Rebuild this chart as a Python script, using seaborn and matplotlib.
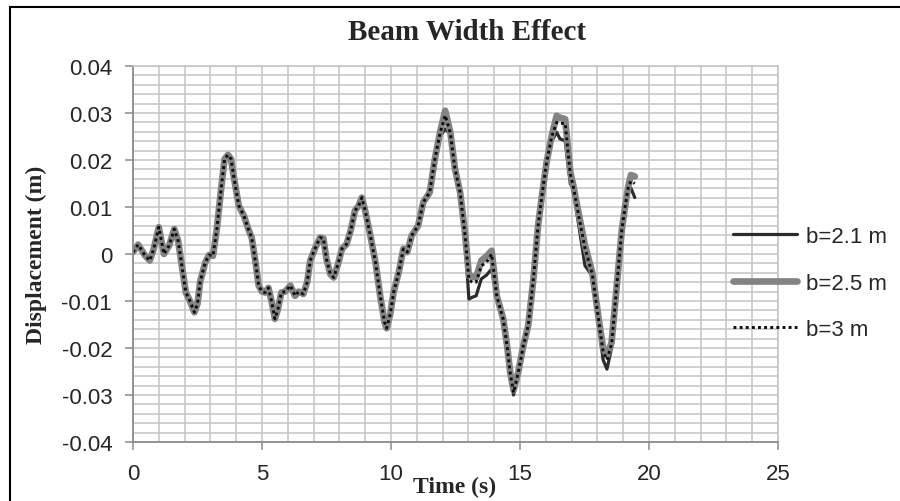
import matplotlib
matplotlib.use('Agg')
import matplotlib.pyplot as plt
import matplotlib.ticker as mticker
from matplotlib.patches import Rectangle
import pandas as pd
import seaborn as sns

# tiempos (s)
time_s = [0.0, 0.2, 0.45, 0.65, 0.8, 1.0, 1.2, 1.4, 1.6, 1.75,
          1.95, 2.05, 2.2, 2.38, 2.5, 2.6, 2.8, 2.95, 3.1, 3.25,
          3.4, 3.55, 3.68, 3.8, 3.92, 4.1, 4.3, 4.47, 4.6, 4.75,
          4.87, 5.0, 5.12, 5.25, 5.38, 5.5, 5.62, 5.75, 5.9, 6.1,
          6.28, 6.42, 6.6, 6.75, 6.87, 7.05, 7.25, 7.38, 7.5, 7.65,
          7.78, 7.95, 8.1, 8.28, 8.45, 8.6, 8.75, 8.87, 9.0, 9.2,
          9.4, 9.58, 9.75, 9.83, 9.97, 10.1, 10.3, 10.48, 10.63, 10.8,
          11.05, 11.25, 11.5, 11.7, 11.9, 12.1, 12.3, 12.48, 12.68, 12.88,
          13.02, 13.15, 13.3, 13.5, 13.7, 13.9, 14.1, 14.35, 14.5, 14.62,
          14.75, 14.93, 15.13, 15.32, 15.52, 15.7, 15.85, 16.03, 16.23, 16.42,
          16.55, 16.75, 16.95, 17.05, 17.28, 17.52, 17.8, 18.05, 18.22, 18.37,
          18.55, 18.68, 18.82, 18.95, 19.08, 19.2, 19.3, 19.45]

# b=2.1 m
disp_b21 = [0.0004, 0.0020, -0.0002, -0.0014, 0.0010, 0.0057, 0.0000, 0.0018, 0.0053, 0.0028,
            -0.0046, -0.0082, -0.0099, -0.0124, -0.0106, -0.0060, -0.0018, -0.0002, -0.0004, 0.0053,
            0.0131, 0.0202, 0.0211, 0.0202, 0.0160, 0.0103, 0.0081, 0.0053, 0.0035, -0.0018,
            -0.0067, -0.0080, -0.0082, -0.0072, -0.0103, -0.0138, -0.0117, -0.0082, -0.0080, -0.0067,
            -0.0089, -0.0080, -0.0085, -0.0060, -0.0014, 0.0011, 0.0035, 0.0033, -0.0011, -0.0043,
            -0.0050, -0.0021, 0.0011, 0.0021, 0.0053, 0.0092, 0.0103, 0.0120, 0.0092, 0.0039,
            -0.0018, -0.0089, -0.0145, -0.0160, -0.0128, -0.0082, -0.0039, 0.0011, 0.0004, 0.0039,
            0.0060, 0.0110, 0.0131, 0.0202, 0.0250, 0.0266, 0.0255, 0.0181, 0.0131, 0.0020,
            -0.0096, -0.0092, -0.0089, -0.0053, -0.0045, -0.0032, -0.0095, -0.0140, -0.0197, -0.0255,
            -0.0300, -0.0255, -0.0195, -0.0152, -0.0053, 0.0060, 0.0124, 0.0190, 0.0240, 0.0259,
            0.0245, 0.0241, 0.0150, 0.0140, 0.0060, -0.0025, -0.0046, -0.0150, -0.0225, -0.0245,
            -0.0200, -0.0115, -0.0025, 0.0053, 0.0103, 0.0140, 0.0140, 0.0120]

# b=2.5 m
disp_b25 = [0.0004, 0.0020, -0.0002, -0.0014, 0.0010, 0.0057, 0.0000, 0.0018, 0.0053, 0.0028,
            -0.0046, -0.0082, -0.0099, -0.0124, -0.0106, -0.0060, -0.0018, -0.0002, -0.0004, 0.0053,
            0.0131, 0.0202, 0.0211, 0.0202, 0.0160, 0.0103, 0.0081, 0.0053, 0.0035, -0.0018,
            -0.0067, -0.0080, -0.0082, -0.0072, -0.0103, -0.0138, -0.0117, -0.0082, -0.0080, -0.0067,
            -0.0089, -0.0080, -0.0085, -0.0060, -0.0014, 0.0011, 0.0035, 0.0033, -0.0011, -0.0043,
            -0.0050, -0.0021, 0.0011, 0.0021, 0.0053, 0.0092, 0.0103, 0.0120, 0.0092, 0.0039,
            -0.0018, -0.0089, -0.0145, -0.0158, -0.0128, -0.0082, -0.0039, 0.0011, 0.0004, 0.0039,
            0.0060, 0.0110, 0.0131, 0.0202, 0.0259, 0.0305, 0.0259, 0.0181, 0.0131, 0.0039,
            -0.0046, -0.0048, -0.0050, -0.0014, -0.0005, 0.0007, -0.0089, -0.0138, -0.0195, -0.0252,
            -0.0290, -0.0252, -0.0195, -0.0152, -0.0053, 0.0060, 0.0124, 0.0195, 0.0252, 0.0294,
            0.0290, 0.0287, 0.0174, 0.0150, 0.0085, 0.0018, -0.0039, -0.0138, -0.0200, -0.0216,
            -0.0188, -0.0110, -0.0025, 0.0053, 0.0103, 0.0145, 0.0168, 0.0165]

# b=3 m
disp_b3 = [0.0004, 0.0020, -0.0002, -0.0014, 0.0010, 0.0057, 0.0000, 0.0018, 0.0053, 0.0028,
           -0.0046, -0.0082, -0.0099, -0.0124, -0.0106, -0.0060, -0.0018, -0.0002, -0.0004, 0.0053,
           0.0131, 0.0202, 0.0211, 0.0202, 0.0160, 0.0103, 0.0081, 0.0053, 0.0035, -0.0018,
           -0.0067, -0.0080, -0.0082, -0.0072, -0.0103, -0.0138, -0.0117, -0.0082, -0.0080, -0.0067,
           -0.0089, -0.0080, -0.0085, -0.0060, -0.0014, 0.0011, 0.0035, 0.0033, -0.0011, -0.0043,
           -0.0050, -0.0021, 0.0011, 0.0021, 0.0053, 0.0092, 0.0103, 0.0120, 0.0092, 0.0039,
           -0.0018, -0.0089, -0.0145, -0.0158, -0.0128, -0.0082, -0.0039, 0.0011, 0.0004, 0.0039,
           0.0060, 0.0110, 0.0131, 0.0202, 0.0257, 0.0295, 0.0257, 0.0181, 0.0131, 0.0035,
           -0.0055, -0.0060, -0.0060, -0.0025, -0.0018, 0.0000, -0.0090, -0.0139, -0.0196, -0.0253,
           -0.0295, -0.0253, -0.0195, -0.0152, -0.0053, 0.0060, 0.0124, 0.0195, 0.0250, 0.0280,
           0.0278, 0.0278, 0.0170, 0.0148, 0.0080, 0.0012, -0.0042, -0.0142, -0.0208, -0.0225,
           -0.0192, -0.0112, -0.0025, 0.0053, 0.0103, 0.0143, 0.0155, 0.0150]

series_names = ['b=2.1 m', 'b=2.5 m', 'b=3 m']
x_ticks = [0, 5, 10, 15, 20, 25]
y_ticks = [-0.04, -0.03, -0.02, -0.01, 0.0, 0.01, 0.02, 0.03, 0.04]
y_tick_labels = ['-0.04', '-0.03', '-0.02', '-0.01', '0', '0.01', '0.02', '0.03', '0.04']

df = pd.DataFrame({'Time': time_s * 3,
                   'Disp': disp_b21 + disp_b25 + disp_b3,
                   'Serie': [series_names[0]] * len(time_s)
                            + [series_names[1]] * len(time_s)
                            + [series_names[2]] * len(time_s)})

sns.set_style('white')
plt.rcParams['font.family'] = ['Liberation Sans', 'DejaVu Sans']

fig = plt.figure(figsize=(9, 5.02), dpi=100)
ax = fig.add_axes([133 / 900, 1 - 443 / 502, 645 / 900, 376 / 502])

estilos = {'b=2.1 m': dict(color='#2b2b2b', lw=2.3, ls='-'),
           'b=2.5 m': dict(color='#838383', lw=4.8, ls='-'),
           'b=3 m': dict(color='#0d0d0d', lw=2.1, ls=(0, (1, 1.1)))}
for nombre in series_names:
    st = estilos[nombre]
    sns.lineplot(data=df[df['Serie'] == nombre], x='Time', y='Disp', ax=ax,
                 color=st['color'], linewidth=st['lw'], linestyle=st['ls'],
                 label=nombre, estimator=None, sort=False,
                 solid_joinstyle='round', solid_capstyle='round')

ax.set_xlim(0, 25)
ax.set_ylim(-0.04, 0.04)
ax.set_xticks(x_ticks)
ax.set_xticklabels([str(t) for t in x_ticks])
ax.set_yticks(y_ticks)
ax.set_yticklabels(y_tick_labels)
ax.xaxis.set_minor_locator(mticker.MultipleLocator(1))
ax.yaxis.set_minor_locator(mticker.MultipleLocator(0.002))
ax.grid(which='both', color='#c4c4c4', linewidth=1.1)
ax.set_axisbelow(True)
ax.tick_params(axis='both', which='major', direction='out', length=6,
               width=1.1, color='#8c8c8c', labelsize=16, pad=9, left=True, bottom=True)
ax.tick_params(axis='both', which='minor', length=0)
for lado in ['left', 'bottom']:
    ax.spines[lado].set_color('#8c8c8c')
    ax.spines[lado].set_linewidth(1.3)
for lado in ['top', 'right']:
    ax.spines[lado].set_color('#c4c4c4')
    ax.spines[lado].set_linewidth(1.1)
ax.set_xlabel('')
ax.set_ylabel('')

ax.legend(loc='center left', bbox_to_anchor=(733 / 900, 1 - 284 / 502),
          bbox_transform=fig.transFigure, frameon=False, fontsize=16,
          handlelength=2.9, handletextpad=0.4, labelspacing=1.15,
          borderpad=0, borderaxespad=0)

fig.text(467 / 900, 1 - 33 / 502, 'Beam Width Effect', ha='center', va='center',
         fontsize=21, fontweight='bold', family=['Liberation Serif', 'DejaVu Serif'])
fig.text(455 / 900, 1 - 487 / 502, 'Time (s)', ha='center', va='center',
         fontsize=17, fontweight='bold', family=['Liberation Serif', 'DejaVu Serif'])
fig.text(36 / 900, 1 - 255 / 502, 'Displacement (m)', ha='center', va='center',
         rotation=90, fontsize=17, fontweight='bold',
         family=['Liberation Serif', 'DejaVu Serif'])

fig.add_artist(Rectangle((10 / 900, -0.02), 1.0, 1 - 7.5 / 502 + 0.02,
                         transform=fig.transFigure, fill=False,
                         edgecolor='black', linewidth=1.5))

fig.savefig('out.png', dpi=100)
